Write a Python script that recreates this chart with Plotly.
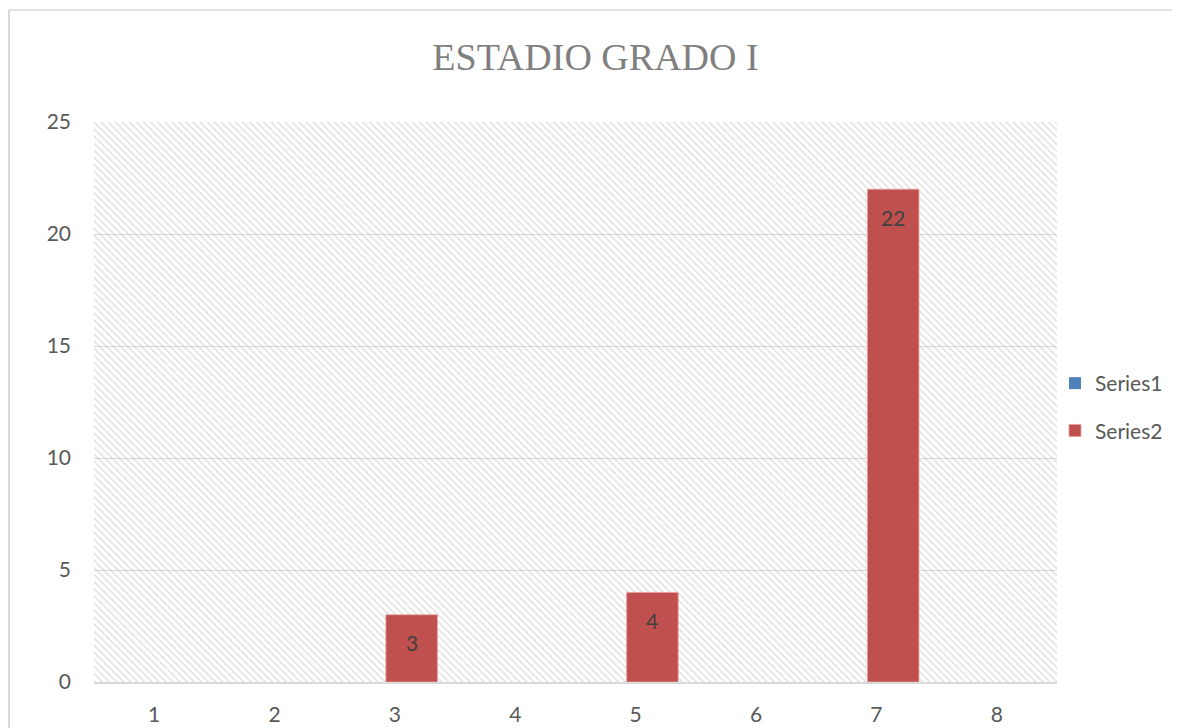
import plotly.graph_objects as go

categories = [1, 2, 3, 4, 5, 6, 7, 8]
series1 = [None, None, None, None, None, None, None, None]
series2 = [None, None, 3, None, 4, None, 22, None]
y_ticks = [0, 5, 10, 15, 20, 25]
title_text = "ESTADIO GRADO I"

Y_MAX = 25
BAR_W = 0.428
S2_OFF = -0.075
S1_OFF = -0.35

# page body has an 8px margin; positions below are in reference-image pixels
OFF = 8
W, H = 1180, 728
PX0, PX1, PY0, PY1 = 94 - OFF, 1057 - OFF, 122 - OFF, 682 - OFF
L, R, T, B = PX0, W - PX1, PY0, H - PY1
PW = PX1 - PX0
PH = PY1 - PY0


def xp(px):
    return (px - OFF - PX0) / PW


def yp(py):
    return (PY1 - (py - OFF)) / PH


TICK_FONT = dict(family="Lato", size=21, color="#595959")

fig = go.Figure()

# hatched plot-area background
fig.add_trace(go.Bar(
    x=[(categories[0] + categories[-1]) / 2], y=[Y_MAX],
    width=[len(categories)],
    marker=dict(color="rgba(0,0,0,0)", line=dict(width=0),
                pattern=dict(shape="\\", fgcolor="#c2c2c2", size=5, solidity=0.32)),
    hoverinfo="skip", showlegend=False,
))

fig.add_trace(go.Bar(
    name="Series1", x=categories, y=series1,
    width=BAR_W, offset=S1_OFF,
    marker=dict(color="#4f81bd", line=dict(width=0)),
    legendgroup="s1",
))
fig.add_trace(go.Bar(
    name="Series2", x=categories, y=series2,
    width=BAR_W, offset=S2_OFF,
    marker=dict(color="#c0504d", line=dict(width=0.8, color="#e8a09e")),
    legendgroup="s2",
))

for c, v in zip(categories, series2):
    if v is None:
        continue
    fig.add_annotation(
        x=c + S2_OFF + BAR_W / 2, y=v, text=str(v), showarrow=False,
        yshift=-28, font=dict(family="Lato", size=21, color="#404040"),
        xanchor="center", yanchor="middle",
    )

# outer chart border (left and top); left edge sits at the page's left limit
bx, by = xp(OFF + 1), yp(10)
fig.add_shape(type="line", xref="paper", yref="paper",
              x0=bx, x1=bx, y0=by, y1=yp(740),
              line=dict(color="#d9d9d9", width=2))
fig.add_shape(type="line", xref="paper", yref="paper",
              x0=bx, x1=xp(1200), y0=by, y1=by,
              line=dict(color="#d9d9d9", width=1.5))

fig.update_layout(
    width=W, height=H,
    margin=dict(l=L, r=R, t=T, b=B, autoexpand=False),
    paper_bgcolor="white", plot_bgcolor="white",
    barmode="overlay",
    title=dict(text=title_text, x=(595.5 - OFF) / W, xref="container", xanchor="center",
               y=1 - (57 - OFF) / H, yref="container", yanchor="middle",
               font=dict(family="Liberation Serif", size=38, color="#7f7f7f")),
    legend=dict(x=xp(1055), xanchor="left", y=yp(363), yanchor="top",
                font=TICK_FONT, tracegroupgap=17, traceorder="grouped",
                bgcolor="rgba(0,0,0,0)", itemwidth=30),
    xaxis=dict(range=[0.5, 8.5], tickmode="array", tickvals=categories,
               ticktext=[str(c) for c in categories], showgrid=False,
               showline=True, linecolor="#d9d9d9", linewidth=1.5,
               zeroline=False, ticks="", tickfont=TICK_FONT, ticklabelstandoff=13,
               automargin=False, fixedrange=True),
    yaxis=dict(range=[0, Y_MAX], tickmode="array", tickvals=y_ticks,
               showgrid=True, gridcolor="#d9d9d9", gridwidth=1.2,
               zeroline=False, showline=False, ticks="", tickfont=TICK_FONT,
               ticklabelstandoff=22, automargin=False, fixedrange=True),
    showlegend=True,
)

fig.write_html("out.html")
